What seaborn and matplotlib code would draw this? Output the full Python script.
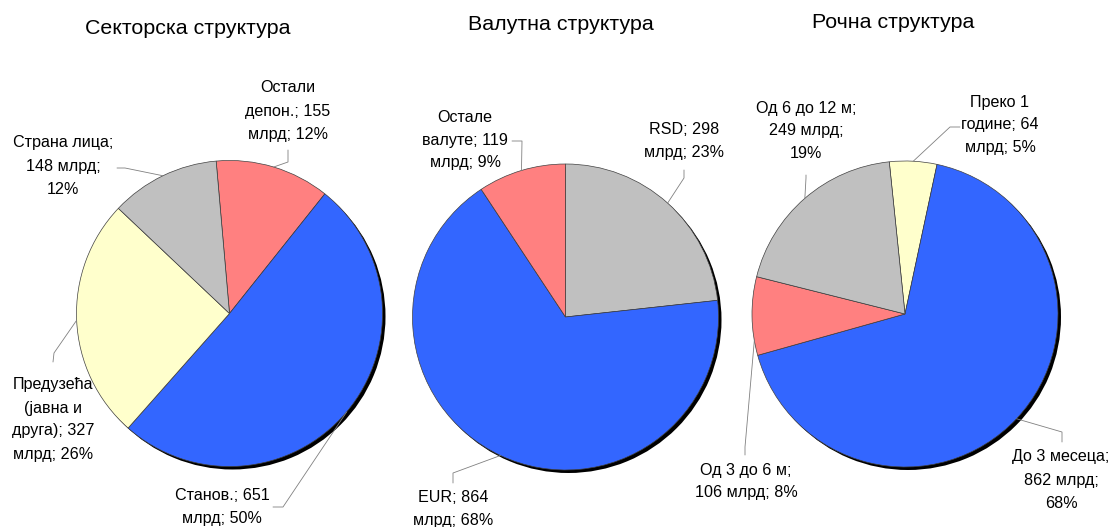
import numpy as np
import matplotlib
matplotlib.use('Agg')
import matplotlib.pyplot as plt
from matplotlib.lines import Line2D
import seaborn as sns

sns.set_theme(style='white')
plt.rcParams['font.family'] = ['Liberation Sans', 'DejaVu Sans']

# ---------------- data ----------------
titles = ['Секторска структура', 'Валутна структура', 'Рочна структура']

sector_names = ['Остали депон.', 'Станов.', 'Предузећа (јавна и друга)', 'Страна лица']
sector_values = [155, 651, 327, 148]
sector_pct = [12, 50, 26, 12]

currency_names = ['RSD', 'EUR', 'Остале валуте']
currency_values = [298, 864, 119]
currency_pct = [23, 68, 9]

maturity_names = ['Преко 1 године', 'До 3 месеца', 'Од 3 до 6 м', 'Од 6 до 12 м']
maturity_values = [64, 862, 106, 249]
maturity_pct = [5, 68, 8, 19]

unit = 'млрд'

# ---------------- style / layout ----------------
BLUE, RED, GRAY, YELLOW = '#3366FF', '#FF8080', '#C0C0C0', '#FFFFCC'
W, H = 1112, 527

pies = [
    dict(names=sector_names, values=sector_values, pct=sector_pct,
         colors=[RED, BLUE, YELLOW, GRAY], center=(229.5, 313.5), r=153, start=95.0,
         title_pos=(188, 28),
         words=[[1, 2, 2], [2, 2], [1, 2, 2, 2], [2, 2, 1]],
         label_pos=[(288, 88), (222, 495), (53, 385), (63, 143)],
         elbows=[[(288, 150), (288, 162)], [(273, 507), (283, 507)],
                 [(53, 362), (54, 353)], [(117, 168), (125, 168)]],
         frac=[0.5, 0.5, 0.5, 0.5]),
    dict(names=currency_names, values=currency_values, pct=currency_pct,
         colors=[GRAY, BLUE, RED], center=(565.5, 317), r=153, start=90.0,
         title_pos=(561, 25),
         words=[[2, 2], [2, 2], [1, 2, 2]],
         label_pos=[(684, 129), (453, 497), (465, 117)],
         elbows=[[(684, 170), (684, 178)], [(453, 483), (453, 473)],
                 [(512, 141), (522, 141)]],
         frac=[0.5, 0.5, 0.5]),
    dict(names=maturity_names, values=maturity_values, pct=maturity_pct,
         colors=[YELLOW, BLUE, RED, GRAY], center=(905, 314), r=153, start=95.9,
         title_pos=(893, 22),
         words=[[2, 2, 2], [3, 2, 1], [5, 3], [5, 2, 1]],
         label_pos=[(1000, 102), (1061, 457), (746, 470), (806, 108)],
         elbows=[[(960, 127), (950, 127)], [(1062, 442), (1062, 432)],
                 [(745, 455), (745, 447)], [(806, 175), (806, 178)]],
         frac=[0.5, 0.5, 0.19, 0.5]),
]

LABEL_FS = 11.6
TITLE_FS = 15.4
PITCH = 23.0
SHADOW = 3.0
PAD = 12

fig = plt.figure(figsize=(W / 100, H / 100), dpi=100)
fig.patch.set_facecolor('white')


def fx(x):
    return x / W


def fy(y):
    return 1 - y / H


for p in pies:
    cx, cy = p['center']
    r = p['r']
    ext = r + PAD
    ax = fig.add_axes([fx(cx - ext), fy(cy + ext), 2 * ext / W, 2 * ext / H])
    ax.set_axis_off()
    s = SHADOW / r
    ax.pie([1], colors=['black'], radius=1, center=(s, -s), startangle=90,
           wedgeprops=dict(linewidth=0))
    wedges, _ = ax.pie(p['values'], colors=p['colors'], radius=1, startangle=p['start'],
                       counterclock=False,
                       wedgeprops=dict(edgecolor='#404040', linewidth=0.5))
    lim = ext / r
    ax.set_xlim(-lim, lim)
    ax.set_ylim(-lim, lim)
    ax.set_aspect('equal')

    # title
    tx, ty = p['title_pos']
    fig.text(fx(tx), fy(ty), titles[pies.index(p)], fontsize=TITLE_FS, ha='center',
             va='center', color='black')

    # labels
    for i, w in enumerate(wedges):
        full = f"{p['names'][i]}; {p['values'][i]} {unit}; {p['pct'][i]}%"
        toks = full.split(' ')
        lines, k = [], 0
        for n in p['words'][i]:
            lines.append(' '.join(toks[k:k + n]))
            k += n
        lx, ly = p['label_pos'][i]
        for j, ln in enumerate(lines):
            fig.text(fx(lx), fy(ly + j * PITCH), ln, fontsize=LABEL_FS, ha='center',
                     va='center', color='black')
        # leader line
        t1, t2 = w.theta1, w.theta2
        ang = np.deg2rad(t2 - p['frac'][i] * (t2 - t1))
        axp = cx + r * np.cos(ang)
        ayp = cy - r * np.sin(ang)
        pts = p['elbows'][i] + [(axp, ayp)]
        fig.add_artist(Line2D([fx(a) for a, b in pts], [fy(b) for a, b in pts],
                              transform=fig.transFigure, color='#808080', linewidth=0.6))

fig.savefig('out.png', dpi=100, facecolor='white')
